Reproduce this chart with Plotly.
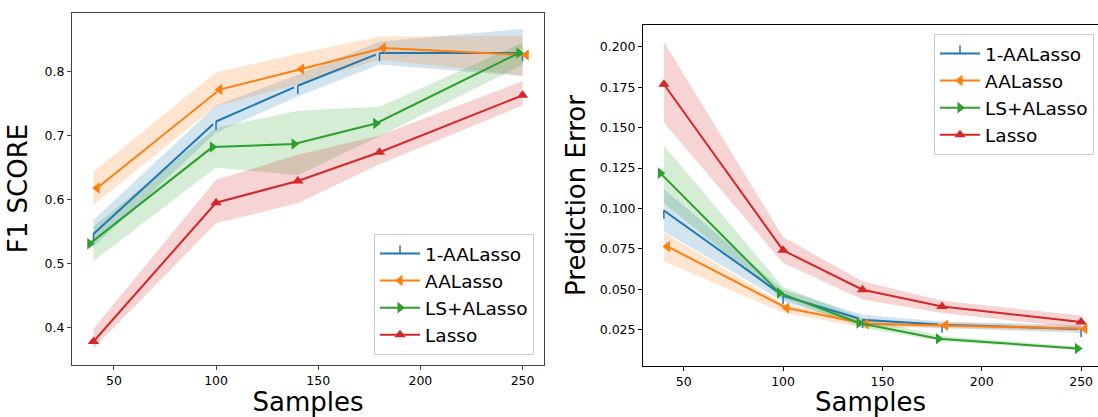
import plotly.graph_objects as go

# ---------------- data ----------------
samples = [40, 100, 140, 180, 250]
series_names = ["1-AALasso", "AALasso", "LS+ALasso", "Lasso"]

# F1 score (left panel): mean, lower, upper
f1_aal1 = [0.546, 0.722, 0.778, 0.829, 0.829]
f1_aal1_lo = [0.526, 0.705, 0.761, 0.811, 0.793]
f1_aal1_hi = [0.568, 0.747, 0.795, 0.847, 0.867]

f1_aal = [0.618, 0.772, 0.804, 0.837, 0.826]
f1_aal_lo = [0.592, 0.746, 0.780, 0.819, 0.794]
f1_aal_hi = [0.644, 0.799, 0.828, 0.855, 0.856]

f1_ls = [0.531, 0.682, 0.687, 0.719, 0.829]
f1_ls_lo = [0.504, 0.650, 0.638, 0.699, 0.811]
f1_ls_hi = [0.558, 0.712, 0.739, 0.745, 0.845]

f1_lasso = [0.378, 0.595, 0.629, 0.674, 0.763]
f1_lasso_lo = [0.367, 0.563, 0.594, 0.655, 0.747]
f1_lasso_hi = [0.398, 0.631, 0.670, 0.700, 0.785]

# Prediction error (right panel): mean, lower, upper
pe_aal1 = [0.0988, 0.0460, 0.0312, 0.0281, 0.0254]
pe_aal1_lo = [0.0858, 0.0425, 0.0280, 0.0260, 0.0230]
pe_aal1_hi = [0.1120, 0.0497, 0.0343, 0.0300, 0.0278]

pe_aal = [0.0765, 0.0384, 0.0287, 0.0277, 0.0256]
pe_aal_lo = [0.0673, 0.0355, 0.0265, 0.0260, 0.0240]
pe_aal_hi = [0.0852, 0.0410, 0.0310, 0.0295, 0.0272]

pe_ls = [0.1219, 0.0477, 0.0291, 0.0194, 0.0133]
pe_ls_lo = [0.1033, 0.0440, 0.0260, 0.0178, 0.0123]
pe_ls_hi = [0.1390, 0.0515, 0.0320, 0.0210, 0.0143]

pe_lasso = [0.1769, 0.0741, 0.0497, 0.0394, 0.0297]
pe_lasso_lo = [0.1532, 0.0662, 0.0436, 0.0353, 0.0260]
pe_lasso_hi = [0.2033, 0.0823, 0.0549, 0.0429, 0.0337]

f1_ticks = [0.4, 0.5, 0.6, 0.7, 0.8]
pe_ticks = [0.025, 0.05, 0.075, 0.1, 0.125, 0.15, 0.175, 0.2]
x_ticks = [50, 100, 150, 200, 250]

# ---------------- style ----------------
colors = ["#1f77b4", "#ff7f0e", "#2ca02c", "#d62728"]
fills = ["rgba(31,119,180,0.2)", "rgba(255,127,14,0.2)",
         "rgba(44,160,44,0.2)", "rgba(214,39,40,0.2)"]
x_shift = [0, 1.8, -1.8, 0]  # small horizontal dodge of lines/markers
markers = [dict(symbol="line-ns", size=6, standoff=4, line=dict(width=1.5)),
           dict(symbol="triangle-left", size=10),
           dict(symbol="triangle-right", size=10),
           dict(symbol="triangle-up", size=10)]
FONT = "DejaVu Sans"

fig = go.Figure()

panels = [
    ("x", "y", "legend",
     [(f1_aal1, f1_aal1_lo, f1_aal1_hi), (f1_aal, f1_aal_lo, f1_aal_hi),
      (f1_ls, f1_ls_lo, f1_ls_hi), (f1_lasso, f1_lasso_lo, f1_lasso_hi)]),
    ("x2", "y2", "legend2",
     [(pe_aal1, pe_aal1_lo, pe_aal1_hi), (pe_aal, pe_aal_lo, pe_aal_hi),
      (pe_ls, pe_ls_lo, pe_ls_hi), (pe_lasso, pe_lasso_lo, pe_lasso_hi)]),
]

for xa, ya, leg, data in panels:
    # bands
    for i, (m, lo, hi) in enumerate(data):
        fig.add_trace(go.Scatter(
            x=samples + samples[::-1], y=hi + lo[::-1], fill="toself",
            fillcolor=fills[i], line=dict(width=0), mode="lines",
            showlegend=False, hoverinfo="skip", xaxis=xa, yaxis=ya))
    # lines
    for i, (m, lo, hi) in enumerate(data):
        mk = dict(markers[i])
        mk["color"] = colors[i]
        if "line" in mk:
            mk["line"] = dict(width=1.5, color=colors[i])
        fig.add_trace(go.Scatter(
            x=[s + x_shift[i] for s in samples], y=m, mode="lines+markers",
            name=series_names[i], line=dict(color=colors[i], width=2),
            marker=mk, xaxis=xa, yaxis=ya, legend=leg))

W, H = 1098, 417
axis_common = dict(showline=True, ticks="outside", ticklen=4,
                   tickwidth=1, showgrid=False, zeroline=False,
                   tickfont=dict(family=FONT, size=12.5, color="black"),
                   automargin=False)

left_col = "#444444"
right_col = "#000000"
LEG_FONT = 18.5

fig.update_layout(
    width=W, height=H,
    margin=dict(l=0, r=0, t=0, b=0),
    paper_bgcolor="white", plot_bgcolor="white",
    font=dict(family=FONT, color="black"),
    xaxis=dict(domain=[72 / W, 544 / W], range=[29.5, 260.5], anchor="y",
               tickvals=x_ticks, linecolor=left_col, tickcolor=left_col, mirror=True,
               title=dict(text="Samples", font=dict(family=FONT, size=26), standoff=4),
               **axis_common),
    yaxis=dict(domain=[(H - 364.5) / H, (H - 12.5) / H], range=[0.342, 0.8925],
               anchor="x", tickvals=f1_ticks, tickformat=".1f", mirror=True,
               linecolor=left_col, tickcolor=left_col,
               title=dict(text="F1 SCORE", font=dict(family=FONT, size=26), standoff=9),
               **axis_common),
    xaxis2=dict(domain=[643 / W, 1.0], range=[29.5, 258.5], anchor="y2",
                tickvals=x_ticks, linecolor=right_col, tickcolor=right_col, mirror=True,
                title=dict(text="Samples", font=dict(family=FONT, size=26), standoff=4),
                **axis_common),
    yaxis2=dict(domain=[(H - 366) / H, (H - 25) / H], range=[0.0025, 0.2136],
                anchor="x2", tickvals=pe_ticks, tickformat=".3f", mirror=False,
                linecolor=right_col, tickcolor=right_col,
                title=dict(text="Prediction Error", font=dict(family=FONT, size=26), standoff=6),
                **axis_common),
    legend=dict(x=534 / W, y=(H - 355) / H, xanchor="right", yanchor="bottom",
                bgcolor="rgba(255,255,255,0.8)", bordercolor="#cccccc",
                borderwidth=1, font=dict(family=FONT, size=LEG_FONT),
                tracegroupgap=0, itemwidth=40),
    legend2=dict(x=1094 / W, y=(H - 34) / H, xanchor="right", yanchor="top",
                 bgcolor="rgba(255,255,255,0.8)", bordercolor="#cccccc",
                 borderwidth=1, font=dict(family=FONT, size=LEG_FONT),
                 tracegroupgap=0, itemwidth=40),
)

fig.write_html("out.html")
